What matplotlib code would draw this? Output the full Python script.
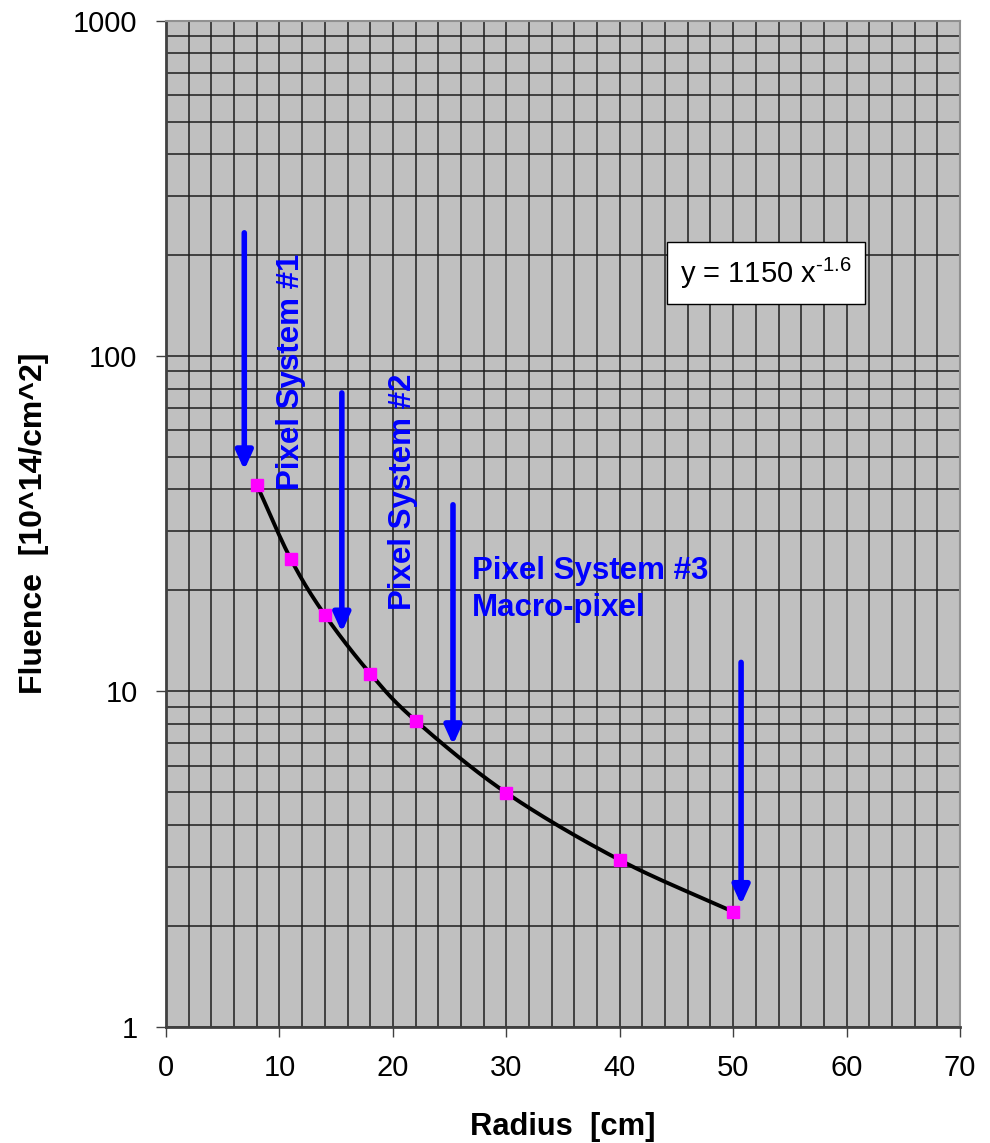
import numpy as np
import matplotlib
matplotlib.use("Agg")
import matplotlib.pyplot as plt
from matplotlib.ticker import MultipleLocator, LogLocator, NullFormatter, FixedLocator

plt.rcParams['font.family'] = ['Liberation Sans', 'DejaVu Sans']

radius = [8, 11, 14, 18, 22, 30, 40, 50]
fluence = [41.3, 24.8, 16.9, 11.3, 8.18, 4.98, 3.14, 2.2]

arrow_x = [6.9, 15.5, 25.3, 50.7]
arrow_top = [233, 77.6, 36, 12.2]
arrow_tip = [45.7, 15.0, 6.92, 2.31]

labels = ["Pixel System #1", "Pixel System #2", "Pixel System #3\nMacro-pixel"]
equation = "y = 1150 x$^{\\mathregular{\u2010}\\mathregular{1.6}}$"

fig = plt.figure(figsize=(9.9, 11.43), dpi=100)
ax = fig.add_axes([0.1677, 0.1018, 0.9697 - 0.1677, 0.9819 - 0.1018])
ax.set_facecolor('#C0C0C0')
ax.set_yscale('log')
ax.set_xlim(0, 70)
ax.set_ylim(1, 1000)

ax.xaxis.set_major_locator(MultipleLocator(10))
ax.xaxis.set_minor_locator(MultipleLocator(2))
ax.yaxis.set_major_locator(FixedLocator([1, 10, 100, 1000]))
ax.yaxis.set_minor_locator(LogLocator(base=10, subs=np.arange(2, 10)))
ax.yaxis.set_minor_formatter(NullFormatter())
ax.set_yticklabels(['1', '10', '100', '1000'])

ax.grid(True, which='both', axis='both', color='#202020', linewidth=1.4, alpha=0.8)
ax.set_axisbelow(True)

ax.tick_params(axis='both', which='major', labelsize=21, length=7.5, width=1, color='#404040', direction='out')
ax.tick_params(axis='x', which='major', pad=12)
ax.tick_params(axis='y', which='major', pad=13)
ax.tick_params(axis='both', which='minor', length=0)

for s in ['left', 'bottom']:
    ax.spines[s].set_color('#404040')
    ax.spines[s].set_linewidth(2)
for s in ['top', 'right']:
    ax.spines[s].set_color('#909090')
    ax.spines[s].set_linewidth(1.5)

ax.set_xlabel('Radius  [cm]', fontsize=22.2, fontweight='bold', labelpad=22)
ax.set_ylabel('Fluence  [10^14/cm^2]', fontsize=23, fontweight='bold', labelpad=17)

# smoothed curve (Catmull-Rom in x / log y space)
xs = np.array(radius, dtype=float)
ly = np.log10(np.array(fluence, dtype=float))
px = np.concatenate([[2 * xs[0] - xs[1]], xs, [2 * xs[-1] - xs[-2]]])
py = np.concatenate([[2 * ly[0] - ly[1]], ly, [2 * ly[-1] - ly[-2]]])
cx, cy = [], []
t = np.linspace(0, 1, 30)
for i in range(1, len(px) - 2):
    p0x, p1x, p2x, p3x = px[i - 1], px[i], px[i + 1], px[i + 2]
    p0y, p1y, p2y, p3y = py[i - 1], py[i], py[i + 1], py[i + 2]
    bx = 0.5 * ((2 * p1x) + (-p0x + p2x) * t + (2 * p0x - 5 * p1x + 4 * p2x - p3x) * t**2 + (-p0x + 3 * p1x - 3 * p2x + p3x) * t**3)
    by = 0.5 * ((2 * p1y) + (-p0y + p2y) * t + (2 * p0y - 5 * p1y + 4 * p2y - p3y) * t**2 + (-p0y + 3 * p1y - 3 * p2y + p3y) * t**3)
    cx.extend(bx)
    cy.extend(by)
ax.plot(cx, 10 ** np.array(cy), color='black', linewidth=2.8, zorder=3)
ax.plot(radius, fluence, linestyle='none', marker='s', markersize=8.5,
        markerfacecolor='#FF00FF', markeredgecolor='#FF00FF', zorder=4)

for xa, yt, yb in zip(arrow_x, arrow_top, arrow_tip):
    ax.annotate('', xy=(xa, yb), xytext=(xa, yt),
                arrowprops=dict(arrowstyle='-|>,head_width=0.5,head_length=1.1',
                                color='#0000FF', linewidth=4, shrinkA=0, shrinkB=0),
                zorder=5)

ax.text(11.0, 39.9, labels[0], rotation=90, color='#0000FF', fontsize=22.5,
        fontweight='bold', ha='center', va='bottom', zorder=6)
ax.text(20.9, 17.5, labels[1], rotation=90, color='#0000FF', fontsize=22.5,
        fontweight='bold', ha='center', va='bottom', zorder=6)
ax.text(27.0, 25.3, labels[2], color='#0000FF', fontsize=22.5,
        fontweight='bold', ha='left', va='top', linespacing=1.3, zorder=6)

ax.text(0.756, 0.749, equation, transform=ax.transAxes, fontsize=21, ha='center', va='center',
        bbox=dict(boxstyle='square,pad=0.45', facecolor='white', edgecolor='black', linewidth=1),
        zorder=6)

fig.savefig('out.png', dpi=100, facecolor='white')
